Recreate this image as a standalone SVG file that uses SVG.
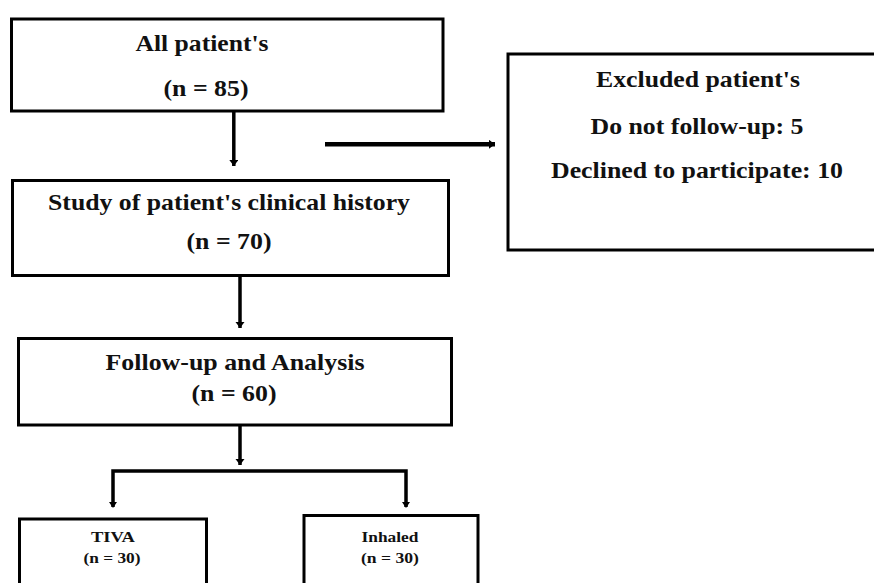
<svg xmlns="http://www.w3.org/2000/svg" width="874" height="583" viewBox="0 0 874 583">
<style>
.box{fill:#fff;stroke:#000;stroke-width:3}
.t{font-family:"Liberation Serif","Times New Roman",serif;font-weight:bold;font-size:23px;fill:#111;text-anchor:middle}
.s{font-size:15px}
.c{fill:none;stroke:#000;stroke-width:3.5}
.h{stroke-width:4.5}
</style>
<defs>
<marker id="ah" markerUnits="userSpaceOnUse" markerWidth="10" markerHeight="10" refX="6" refY="4.5" orient="auto">
<path d="M0,0 L6,4.5 L0,9 z" fill="#000"/>
</marker>
</defs>
<rect width="874" height="583" fill="#fff"/>
<g id="n1">
<rect class="box" x="11.5" y="19" width="431.5" height="92"/>
<text class="t" x="202" y="51" textLength="133" lengthAdjust="spacingAndGlyphs">All patient's</text>
<text class="t" x="206" y="96" textLength="85" lengthAdjust="spacingAndGlyphs">(n = 85)</text>
</g>
<g id="n2">
<rect class="box" x="12.5" y="180.5" width="436" height="95"/>
<text class="t" x="229" y="210" textLength="362" lengthAdjust="spacingAndGlyphs">Study of patient's clinical history</text>
<text class="t" x="229" y="249" textLength="85" lengthAdjust="spacingAndGlyphs">(n = 70)</text>
</g>
<g id="n3">
<rect class="box" x="18.5" y="338.5" width="433" height="86.5"/>
<text class="t" x="235" y="370" textLength="259" lengthAdjust="spacingAndGlyphs">Follow-up and Analysis</text>
<text class="t" x="234" y="401" textLength="85" lengthAdjust="spacingAndGlyphs">(n = 60)</text>
</g>
<g id="n4">
<rect class="box" x="508" y="54" width="400" height="196"/>
<text class="t" x="698" y="87" textLength="204" lengthAdjust="spacingAndGlyphs">Excluded patient's</text>
<text class="t" x="697" y="134" textLength="213" lengthAdjust="spacingAndGlyphs">Do not follow-up: 5</text>
<text class="t" x="697" y="178" textLength="292" lengthAdjust="spacingAndGlyphs">Declined to participate: 10</text>
</g>
<g id="n5">
<rect class="box" x="19.5" y="519" width="187" height="100"/>
<text class="t s" x="113" y="542" textLength="44" lengthAdjust="spacingAndGlyphs">TIVA</text>
<text class="t s" x="112" y="563" textLength="57" lengthAdjust="spacingAndGlyphs">(n = 30)</text>
</g>
<g id="n6">
<rect class="box" x="304" y="515.5" width="174" height="100"/>
<text class="t s" x="390" y="542" textLength="57" lengthAdjust="spacingAndGlyphs">Inhaled</text>
<text class="t s" x="390" y="563" textLength="58" lengthAdjust="spacingAndGlyphs">(n = 30)</text>
</g>
<g id="connectors">
<line class="c" x1="233.8" y1="112" x2="233.8" y2="166" marker-end="url(#ah)"/>
<line class="c h" x1="325" y1="144.3" x2="495" y2="144.3" marker-end="url(#ah)"/>
<line class="c" x1="240" y1="277" x2="240" y2="328" marker-end="url(#ah)"/>
<line class="c" x1="240" y1="426" x2="240" y2="465" marker-end="url(#ah)"/>
<polyline class="c" points="113,507 113,471 406,471 406,507" stroke-linejoin="miter"/>
<path d="M109,502 L113,508 L117,502 z M402,502 L406,508 L410,502 z" fill="#000"/>
</g>
</svg>
